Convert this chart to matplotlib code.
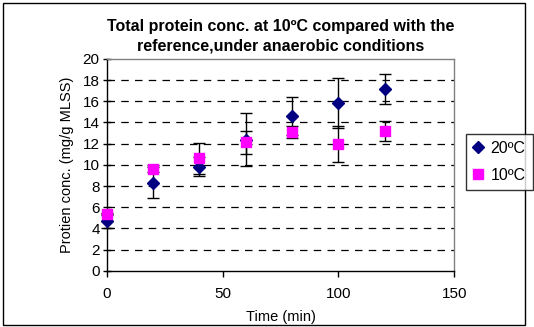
import matplotlib
matplotlib.use("Agg")
import matplotlib.pyplot as plt
from matplotlib.patches import Rectangle

time_min = [0, 20, 40, 60, 80, 100, 120]
t20_mean = [4.73, 8.33, 9.84, 12.35, 14.6, 15.82, 17.17]
t20_err = [0.65, 1.5, 0.9, 2.5, 1.8, 2.35, 1.45]
t10_mean = [5.37, 9.65, 10.6, 12.12, 13.09, 12.0, 13.22]
t10_err = [0.1, 0.35, 1.45, 1.05, 0.55, 1.7, 0.95]
series_labels = ["20\u00baC", "10\u00baC"]
title = "Total protein conc. at 10\u00baC compared with the\nreference,under anaerobic conditions"
xlabel = "Time (min)"
ylabel = "Protien conc. (mg/g MLSS)"
xticks = [0, 50, 100, 150]
yticks = [0, 2, 4, 6, 8, 10, 12, 14, 16, 18, 20]

plt.rcParams['font.family'] = ['Liberation Sans', 'DejaVu Sans']

W, H = 534, 327
fig = plt.figure(figsize=(W / 100, H / 100), dpi=100)
fig.patch.set_facecolor('white')

# outer border
fig.add_artist(Rectangle((3 / W, 1 - 325 / H), (525 - 3) / W, (325 - 3) / H,
                         transform=fig.transFigure, fill=False,
                         edgecolor='black', linewidth=1.0))

left, right, top, bottom = 106.6, 454.4, 58.9, 270.8
ax = fig.add_axes([left / W, 1 - bottom / H, (right - left) / W, (bottom - top) / H])
ax.set_xlim(0, 150)
ax.set_ylim(0, 20)

for y in yticks[1:-1]:
    ax.axhline(y, color='black', linewidth=0.9, dashes=(6, 5), zorder=1)

for m, e in [(t20_mean, t20_err), (t10_mean, t10_err)]:
    _, caps, bars = ax.errorbar(time_min, m, yerr=e, fmt='none', ecolor='black',
                                elinewidth=1.0, capsize=4, capthick=1.0, zorder=2)
    for c in caps:
        c.set_clip_on(False)
    for b in bars:
        b.set_clip_on(False)
ax.plot(time_min, t20_mean, linestyle='none', marker='D', markersize=6.5,
        color='#000080', label=series_labels[0], zorder=3, clip_on=False)
ax.plot(time_min, t10_mean, linestyle='none', marker='s', markersize=7,
        color='#FF00FF', label=series_labels[1], zorder=3, clip_on=False)

ax.set_xticks(xticks)
ax.set_yticks(yticks)
ax.tick_params(axis='both', labelsize=11, colors='black', width=1.0)
ax.tick_params(axis='y', direction='inout', length=6, pad=2)
ax.tick_params(axis='x', direction='out', length=4, pad=8)
for s in ['top', 'right']:
    ax.spines[s].set_color('#808080')
    ax.spines[s].set_linewidth(1.0)
for s in ['left', 'bottom']:
    ax.spines[s].set_color('black')
    ax.spines[s].set_linewidth(1.0)

ax.set_xlabel(xlabel, fontsize=10.5, labelpad=6)
ax.set_ylabel(ylabel, fontsize=10.5, labelpad=6)

fig.text((left + right) / 2 / W, 1 - 36 / H, title, ha='center', va='center',
         fontsize=11.5, fontweight='bold', linespacing=1.4)

leg = fig.legend(loc='upper left', bbox_to_anchor=(465.6 / W, 1 - 133.9 / H),
                 fontsize=11.5, frameon=True, fancybox=False, edgecolor='black',
                 handlelength=0.7, handletextpad=0.4, borderpad=0.45,
                 labelspacing=0.75, borderaxespad=0, markerscale=1.0)
leg.get_frame().set_linewidth(1.0)

fig.savefig('out.png', dpi=100)
